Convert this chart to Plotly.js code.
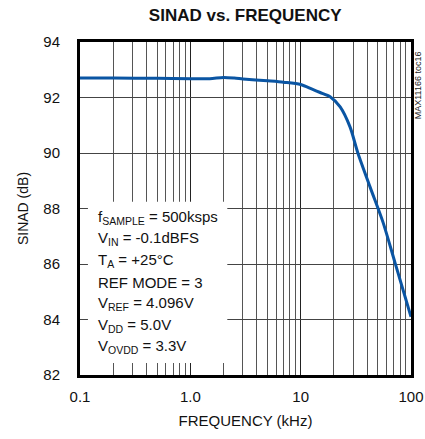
<!DOCTYPE html>
<html>
<head>
<meta charset="utf-8">
<script src="https://cdn.plot.ly/plotly-3.0.1.min.js"></script>
<style>html,body{margin:0;padding:0;background:#fff;}#chart{width:425px;height:439px;}</style>
</head>
<body>
<div id="chart"></div>
<script>
// Data
const freqKHz = [0.1, 0.2, 0.5, 1, 1.5, 2, 2.5, 3, 5, 7, 10, 12.7, 15, 18.5, 22.8, 28, 33, 42.6, 55.8, 71.7, 100];
const sinadDB = [92.70, 92.70, 92.69, 92.68, 92.68, 92.72, 92.70, 92.67, 92.60, 92.55, 92.47, 92.30, 92.18, 92.03, 91.66, 90.94, 90.00, 88.77, 87.50, 86.04, 84.10];

const xTickVals = [0.1, 1, 10, 100];
const xTickText = ['0.1', '1.0', '10', '100'];
const xMinorVals = [0.2,0.3,0.4,0.5,0.6,0.7,0.8,0.9,2,3,4,5,6,7,8,9,20,30,40,50,60,70,80,90];

const conditions = [
  'f<sub>SAMPLE</sub> = 500ksps',
  'V<sub>IN</sub> = -0.1dBFS',
  'T<sub>A</sub> = +25°C',
  'REF MODE = 3',
  'V<sub>REF</sub> = 4.096V',
  'V<sub>DD</sub> = 5.0V',
  'V<sub>OVDD</sub> = 3.3V'
];
const conditionY = [0.474, 0.411, 0.345, 0.279, 0.216, 0.150, 0.087];

const font = 'Liberation Sans, Arial, sans-serif';

const annotations = conditions.map((t, i) => ({
  text: t, xref: 'paper', yref: 'paper', x: 0.048, y: conditionY[i],
  xanchor: 'left', yanchor: 'middle', showarrow: false,
  font: {family: font, size: 15, color: '#111'}
}));
annotations.push({
  text: 'MAX11166 toc16', xref: 'paper', yref: 'paper', x: 1.021, y: 0.87,
  xanchor: 'center', yanchor: 'middle', textangle: -90, showarrow: false,
  font: {family: font, size: 9, color: '#222'}
});

const layout = {
  width: 425, height: 439,
  margin: {l: 80, r: 14, t: 42, b: 64},
  paper_bgcolor: '#fff', plot_bgcolor: '#fff',
  showlegend: false,
  title: {text: '<b>SINAD vs. FREQUENCY</b>', font: {family: font, size: 17, color: '#111'},
          x: 0.577, xanchor: 'center', y: 0.965, yanchor: 'middle'},
  xaxis: {
    type: 'log', range: [-1, 2],
    tickmode: 'array', tickvals: xTickVals, ticktext: xTickText,
    showgrid: true, gridcolor: '#222', gridwidth: 1,
    minor: {tickmode: 'array', tickvals: xMinorVals, showgrid: true, gridcolor: '#555', gridwidth: 1, ticks: ''},
    showline: true, linecolor: '#000', linewidth: 3, mirror: true,
    ticks: '', ticklabelstandoff: 6, zeroline: false,
    tickfont: {family: font, size: 15, color: '#111'},
    title: {text: 'FREQUENCY (kHz)', font: {family: font, size: 15, color: '#111'}, standoff: 12}
  },
  yaxis: {
    range: [82, 94], dtick: 2, tick0: 82,
    showgrid: true, gridcolor: '#444', gridwidth: 1,
    showline: true, linecolor: '#000', linewidth: 3, mirror: true,
    ticks: '', ticklabelstandoff: 14, zeroline: false,
    tickfont: {family: font, size: 15, color: '#111'},
    title: {text: 'SINAD (dB)', font: {family: font, size: 14, color: '#111'}, standoff: 12}
  },
  shapes: [{
    type: 'rect', xref: 'paper', yref: 'paper', x0: 0.024, x1: 0.445, y0: 0.036, y1: 0.52,
    fillcolor: '#fff', line: {width: 0}, layer: 'above'
  }],
  annotations: annotations
};

const traces = [{
  x: freqKHz, y: sinadDB, type: 'scatter', mode: 'lines',
  line: {color: '#0a55a3', width: 3, shape: 'spline', smoothing: 0.8},
  hoverinfo: 'skip'
}];

Plotly.newPlot('chart', traces, layout, {staticPlot: true, displayModeBar: false});
</script>
</body>
</html>
